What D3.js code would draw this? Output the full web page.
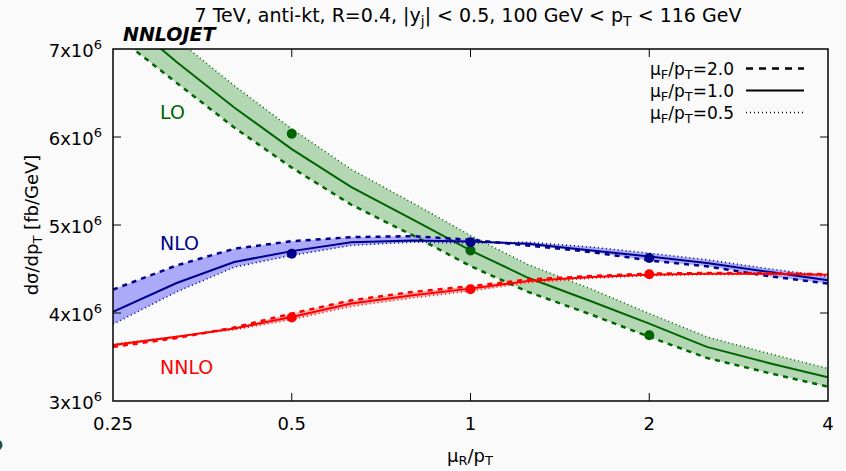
<!DOCTYPE html>
<html>
<head>
<meta charset="utf-8">
<script src="https://cdn.jsdelivr.net/npm/d3@7"></script>
<style>
  html, body { margin: 0; padding: 0; background: #fafafa; }
  svg { display: block; font-family: "DejaVu Sans", sans-serif; }
</style>
</head>
<body>
<svg id="chart" width="846" height="471"></svg>
<script>
// ---- data (values in units of 1e6 fb/GeV) ----
const scales = [0.25, 0.32, 0.4, 0.5, 0.63, 0.8, 1, 1.25, 1.6, 2, 2.5, 3.2, 4];

const LO_muF10 = [7.46, 6.853, 6.335, 5.863, 5.43, 5.062, 4.711, 4.40, 4.13, 3.88, 3.615, 3.427, 3.27];
const LO_muF05 = [7.70, 7.11, 6.584, 6.093, 5.632, 5.249, 4.881, 4.55, 4.27, 3.994, 3.729, 3.535, 3.37];
const LO_muF20 = [7.18, 6.615, 6.108, 5.652, 5.23, 4.881, 4.533, 4.24, 3.98, 3.729, 3.49, 3.314, 3.162];

const NLO_muF10 = [4.012, 4.341, 4.58, 4.703, 4.805, 4.824, 4.813, 4.787, 4.711, 4.643, 4.567, 4.465, 4.371];
const NLO_muF05 = [3.873, 4.24, 4.52, 4.654, 4.768, 4.805, 4.794, 4.805, 4.749, 4.68, 4.606, 4.50, 4.416];
const NLO_muF20 = [4.266, 4.541, 4.73, 4.816, 4.862, 4.873, 4.832, 4.768, 4.692, 4.598, 4.53, 4.416, 4.334];

const NNLO_muF10 = [3.635, 3.729, 3.824, 3.955, 4.107, 4.201, 4.277, 4.364, 4.41, 4.436, 4.447, 4.447, 4.436];
const NNLO_muF05 = [3.646, 3.735, 3.81, 3.926, 4.076, 4.172, 4.25, 4.345, 4.395, 4.425, 4.438, 4.44, 4.432];
const NNLO_muF20 = [3.615, 3.715, 3.835, 3.994, 4.144, 4.24, 4.303, 4.38, 4.42, 4.447, 4.455, 4.452, 4.44];

const dotScales = [0.5, 1, 2];
const LO_dots   = [6.037, 4.71, 3.748];
const NLO_dots  = [4.674, 4.805, 4.624];
const NNLO_dots = [3.948, 4.269, 4.44];

const xTicks = [0.25, 0.5, 1, 2, 4];
const xTickLabels = ["0.25", "0.5", "1", "2", "4"];
const yTicks = [3, 4, 5, 6, 7];
const yTickLabels = ["3x10", "4x10", "5x10", "6x10", "7x10"];
const legendLabels = ["2.0", "1.0", "0.5"];

// ---- layout ----
const svg = d3.select("#chart");
const L = 113, R = 828, T = 49, B = 401;
const x = d3.scaleLog().base(2).domain([0.25, 4]).range([L, R]);
const y = d3.scaleLinear().domain([3, 7]).range([B, T]);

svg.append("rect").attr("width", 846).attr("height", 471).attr("fill", "#fafafa");

svg.append("defs").append("clipPath").attr("id", "clip")
  .append("rect").attr("x", L).attr("y", T).attr("width", R - L).attr("height", B - T);

const plot = svg.append("g").attr("clip-path", "url(#clip)");

const series = [
  { c: LO_muF10, up: LO_muF05, dn: LO_muF20, dots: LO_dots, line: "#006400", band: "#b3d6b3" },
  { c: NLO_muF10, up: NLO_muF05, dn: NLO_muF20, dots: NLO_dots, line: "#00008b", band: "#aaaaf8" },
  { c: NNLO_muF10, up: NNLO_muF05, dn: NNLO_muF20, dots: NNLO_dots, line: "#ff0000", band: "#ffb0b0" }
];

const line = d3.line().x(d => x(d[0])).y(d => y(d[1]));
const area = d3.area().x(d => x(d[0])).y0(d => y(d[1])).y1(d => y(d[2]));

series.forEach(s => {
  plot.append("path")
    .attr("d", area(scales.map((v, i) => [v, s.up[i], s.dn[i]])))
    .attr("fill", s.band).attr("stroke", "none");
});

series.forEach(s => {
  plot.append("path").attr("d", line(scales.map((v, i) => [v, s.dn[i]])))
    .attr("fill", "none").attr("stroke", s.line).attr("stroke-width", 2.5)
    .attr("stroke-dasharray", "5,5");
  plot.append("path").attr("d", line(scales.map((v, i) => [v, s.up[i]])))
    .attr("fill", "none").attr("stroke", s.line).attr("stroke-width", 1.5)
    .attr("stroke-dasharray", "1,3");
  plot.append("path").attr("d", line(scales.map((v, i) => [v, s.c[i]])))
    .attr("fill", "none").attr("stroke", s.line).attr("stroke-width", 2);
  plot.selectAll(null).data(dotScales.map((v, i) => [v, s.dots[i]])).enter()
    .append("circle").attr("cx", d => x(d[0])).attr("cy", d => y(d[1]))
    .attr("r", 5).attr("fill", s.line);
});

// ---- frame & ticks ----
svg.append("rect").attr("x", L).attr("y", T).attr("width", R - L).attr("height", B - T)
  .attr("fill", "none").attr("stroke", "#000").attr("stroke-width", 1.5);

const tk = 8;
xTicks.slice(1, -1).forEach(v => {
  svg.append("line").attr("x1", x(v)).attr("x2", x(v)).attr("y1", B).attr("y2", B - tk).attr("stroke", "#000").attr("stroke-width", 1);
  svg.append("line").attr("x1", x(v)).attr("x2", x(v)).attr("y1", T).attr("y2", T + tk).attr("stroke", "#000").attr("stroke-width", 1);
});
yTicks.slice(1, -1).forEach(v => {
  svg.append("line").attr("x1", L).attr("x2", L + tk).attr("y1", y(v)).attr("y2", y(v)).attr("stroke", "#000").attr("stroke-width", 1);
  svg.append("line").attr("x1", R).attr("x2", R - tk).attr("y1", y(v)).attr("y2", y(v)).attr("stroke", "#000").attr("stroke-width", 1);
});

// tick labels
xTicks.forEach((v, i) => {
  svg.append("text").attr("x", x(v)).attr("y", 430).attr("text-anchor", "middle")
    .attr("font-size", 18).attr("fill", "#000").text(xTickLabels[i]);
});
yTicks.forEach((v, i) => {
  const t = svg.append("text").attr("x", 102).attr("y", y(v) + 8).attr("text-anchor", "end")
    .attr("font-size", 18).attr("fill", "#000");
  t.append("tspan").text(yTickLabels[i]);
  t.append("tspan").attr("font-size", 13).attr("dy", -8).text("6");
});

// axis titles
const xl = svg.append("text").attr("x", 470).attr("y", 462).attr("text-anchor", "middle").attr("font-size", 18);
xl.append("tspan").text("μ");
xl.append("tspan").attr("font-size", 13).attr("dy", 3).text("R");
xl.append("tspan").attr("dy", -3).text("/p");
xl.append("tspan").attr("font-size", 13).attr("dy", 3).text("T");

const yl = svg.append("text").attr("transform", "translate(38,225) rotate(-90)")
  .attr("text-anchor", "middle").attr("font-size", 18);
yl.append("tspan").text("dσ/dp");
yl.append("tspan").attr("font-size", 13).attr("dy", 4).text("T");
yl.append("tspan").attr("dy", -4).text(" [fb/GeV]");

// title
const tt = svg.append("text").attr("x", 468).attr("y", 22).attr("text-anchor", "middle").attr("font-size", 19);
tt.append("tspan").text("7 TeV, anti-kt, R=0.4, |y");
tt.append("tspan").attr("font-size", 14).attr("dy", 4).text("j");
tt.append("tspan").attr("dy", -4).text("| < 0.5, 100 GeV < p");
tt.append("tspan").attr("font-size", 14).attr("dy", 4).text("T");
tt.append("tspan").attr("dy", -4).text(" < 116 GeV");

svg.append("text").attr("x", 123).attr("y", 41).attr("font-size", 19)
  .attr("font-weight", "bold").attr("font-style", "italic").text("NNLOJET");

// series labels
svg.append("text").attr("x", 160).attr("y", 119).attr("font-size", 19).attr("fill", "#006400").text("LO");
svg.append("text").attr("x", 160).attr("y", 250).attr("font-size", 19).attr("fill", "#00008b").text("NLO");
svg.append("text").attr("x", 160).attr("y", 374).attr("font-size", 19).attr("fill", "#ff0000").text("NNLO");

// legend
const legY = [68.5, 90.5, 112.5];
const legStyles = [
  { dash: "7,6", w: 2.5 },
  { dash: null, w: 2 },
  { dash: "1,3", w: 1.5 }
];
legendLabels.forEach((lab, i) => {
  const t = svg.append("text").attr("x", 734).attr("y", legY[i] + 6).attr("text-anchor", "end").attr("font-size", 17);
  t.append("tspan").text("μ");
  t.append("tspan").attr("font-size", 13).attr("dy", 4).text("F");
  t.append("tspan").attr("dy", -4).text("/p");
  t.append("tspan").attr("font-size", 13).attr("dy", 4).text("T");
  t.append("tspan").attr("dy", -4).text("=" + lab);
  const ln = svg.append("line").attr("x1", 746).attr("x2", 804).attr("y1", legY[i]).attr("y2", legY[i])
    .attr("stroke", "#000").attr("stroke-width", legStyles[i].w);
  if (legStyles[i].dash) ln.attr("stroke-dasharray", legStyles[i].dash);
});

// small partial marker at bottom-left edge seen in the reference
svg.append("circle").attr("cx", -3).attr("cy", 445).attr("r", 5.5).attr("fill", "#1f4f4f");
</script>
</body>
</html>
